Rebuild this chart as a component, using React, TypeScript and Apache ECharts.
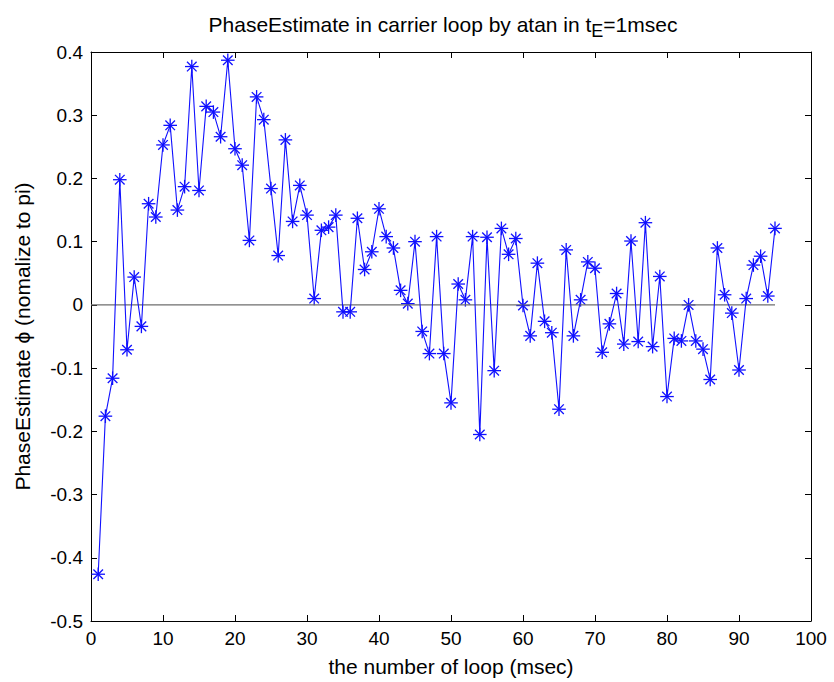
import React, { useEffect, useRef } from "react";
import * as echarts from "echarts";

// loop index 1..95
const loopIndex: number[] = Array.from({ length: 95 }, (_, i) => i + 1);

// normalized phase estimate per loop
const phaseEstimate: number[] = [
  -0.426, -0.176, -0.116, 0.198, -0.071, 0.044, -0.034, 0.160, 0.139, 0.253,
  0.284, 0.150, 0.187, 0.377, 0.181, 0.314, 0.305, 0.266, 0.387, 0.247,
  0.221, 0.102, 0.329, 0.293, 0.184, 0.078, 0.261, 0.132, 0.189, 0.142,
  0.010, 0.118, 0.123, 0.142, -0.011, -0.011, 0.137, 0.056, 0.084, 0.152,
  0.108, 0.090, 0.023, 0.002, 0.100, -0.042, -0.077, 0.108, -0.077, -0.155,
  0.033, 0.008, 0.108, -0.205, 0.107, -0.104, 0.121, 0.080, 0.105, -0.001,
  -0.049, 0.066, -0.026, -0.044, -0.165, 0.087, -0.049, 0.008, 0.068, 0.058,
  -0.075, -0.030, 0.018, -0.062, 0.101, -0.058, 0.130, -0.066, 0.045, -0.145,
  -0.053, -0.057, 0.000, -0.057, -0.070, -0.118, 0.090, 0.016, -0.013, -0.103,
  0.010, 0.063, 0.077, 0.014, 0.121,
];

const xTicks = { min: 0, max: 100, interval: 10 };
const yTicks = { min: -0.5, max: 0.4, interval: 0.1 };

const FONT = "Liberation Sans, Arial, Helvetica, sans-serif";
const BLUE = "#1010ff";

const fmtY = (v: number) => {
  const s = (Math.round(v * 10) / 10).toFixed(1);
  if (s === "0.0" || s === "-0.0") return "0";
  return s;
};

// asterisk marker: a plus and a cross stroked in blue
const renderStar = (_params: any, api: any) => {
  const [cx, cy] = api.coord([api.value(0), api.value(1)]);
  const r = 6.8;
  const d = 4.8;
  const seg = (x1: number, y1: number, x2: number, y2: number) => ({
    type: "line",
    shape: { x1, y1, x2, y2 },
    style: { stroke: BLUE, lineWidth: 1.3 },
  });
  return {
    type: "group",
    children: [
      seg(cx - r, cy, cx + r, cy),
      seg(cx, cy - r, cx, cy + r),
      seg(cx - d, cy - d, cx + d, cy + d),
      seg(cx - d, cy + d, cx + d, cy - d),
    ],
  };
};

export default function App() {
  const ref = useRef<HTMLDivElement>(null);

  useEffect(() => {
    if (!ref.current) return;
    const chart = echarts.init(ref.current, null, { renderer: "svg" });

    const tickStyle = { show: true, inside: true, length: 6, lineStyle: { color: "#000", width: 1 } };
    const lineStyle = { show: true, onZero: false, lineStyle: { color: "#000", width: 1 } };
    const tickLabel = { color: "#000", fontFamily: FONT, fontSize: 19 };
    const nameStyle = { color: "#000", fontFamily: FONT, fontSize: 21 };
    const points = loopIndex.map((x, i) => [x, phaseEstimate[i]]);

    chart.setOption({
      animation: false,
      backgroundColor: "#fff",
      title: {
        text: "PhaseEstimate in carrier loop by atan in t{sub|E}=1msec",
        left: 438,
        top: 3,
        textAlign: "center",
        textStyle: {
          color: "#000",
          fontFamily: FONT,
          fontSize: 21,
          fontWeight: "normal",
          rich: {
            sub: { fontFamily: FONT, fontSize: 18, color: "#000", verticalAlign: "bottom", padding: [14, 0, 0, 0] },
          },
        },
      },
      grid: { left: 91, right: 23, top: 52, bottom: 61, containLabel: false },
      xAxis: [
        {
          type: "value",
          position: "bottom",
          ...xTicks,
          name: "the number of loop (msec)",
          nameLocation: "middle",
          nameGap: 35,
          nameTextStyle: nameStyle,
          axisLine: lineStyle,
          axisTick: tickStyle,
          axisLabel: { ...tickLabel, margin: 8 },
          splitLine: { show: false },
        },
        {
          type: "value",
          position: "top",
          ...xTicks,
          axisLine: lineStyle,
          axisTick: tickStyle,
          axisLabel: { show: false },
          splitLine: { show: false },
        },
      ],
      yAxis: [
        {
          type: "value",
          position: "left",
          ...yTicks,
          name: "PhaseEstimate \u03D5 (nomalize to pi)",
          nameLocation: "middle",
          nameGap: 58,
          nameTextStyle: nameStyle,
          axisLine: lineStyle,
          axisTick: tickStyle,
          axisLabel: { ...tickLabel, margin: 8, formatter: fmtY },
          splitLine: { show: false },
        },
        {
          type: "value",
          position: "right",
          ...yTicks,
          axisLine: lineStyle,
          axisTick: tickStyle,
          axisLabel: { show: false },
          splitLine: { show: false },
        },
      ],
      series: [
        {
          type: "line",
          data: [
            [0, 0],
            [loopIndex[loopIndex.length - 1], 0],
          ],
          symbol: "none",
          lineStyle: { color: "#6e6e6e", width: 1.2 },
          silent: true,
        },
        {
          type: "line",
          data: points,
          symbol: "none",
          lineStyle: { color: BLUE, width: 1.1 },
        },
        {
          type: "custom",
          data: points,
          renderItem: renderStar,
          silent: true,
        },
      ],
    });

    return () => chart.dispose();
  }, []);

  return <div ref={ref} style={{ width: 834, height: 682, position: "absolute", left: 0, top: 0 }} />;
}
